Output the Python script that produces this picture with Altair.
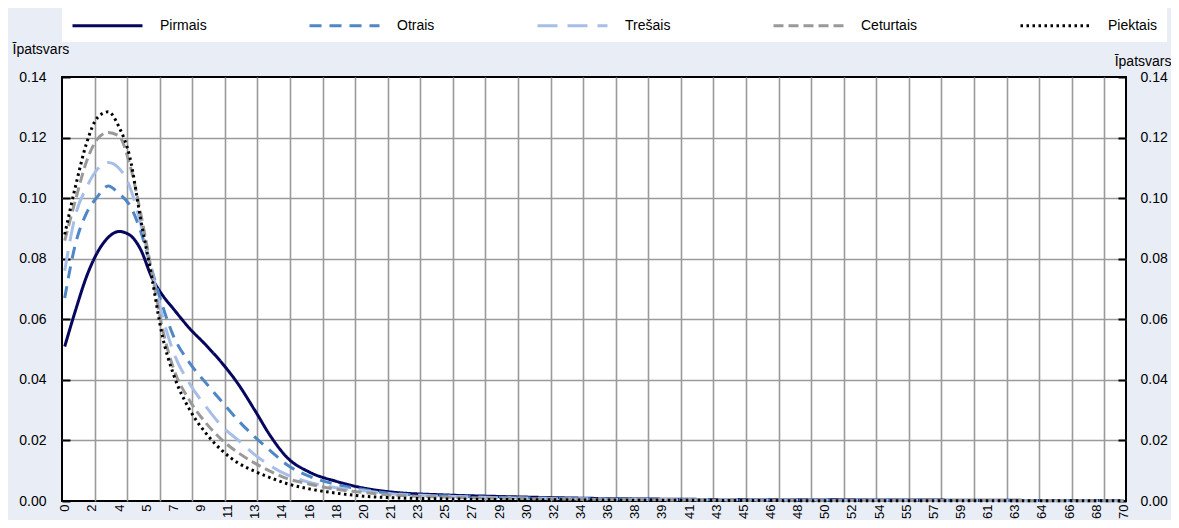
import altair as alt
import pandas as pd

# ---------------- data ----------------
series_names = ["Pirmais", "Otrais", "Trešais", "Ceturtais", "Piektais"]
series_colors = ["#06065F", "#4F86C6", "#A7BFE8", "#999999", "#000000"]
series_dashes = [[1, 0], [12, 8], [20, 10], [10, 5], [2.5, 3.5]]

# category axis: 196 categories, every 5th labelled
x_labels = ["0", "2", "4", "5", "7", "9", "11", "13", "14", "16", "18", "20", "21", "23",
            "25", "27", "29", "30", "32", "34", "36", "38", "39", "41", "43", "45", "46",
            "48", "50", "52", "54", "55", "57", "59", "61", "63", "64", "66", "68", "70"]

# category index at which each value was read
x_cat = [0, 2, 4, 6, 8, 10, 12, 14, 16, 18, 20, 23, 26, 29, 32, 35, 38, 41, 45, 50,
         55, 60, 70, 80, 90, 100, 120, 140, 160, 180, 195]

pirmais = [0.051, 0.063, 0.074, 0.082, 0.087, 0.089, 0.0878, 0.083, 0.074, 0.068, 0.0635,
           0.057, 0.0515, 0.0455, 0.0385, 0.030, 0.0212, 0.0143, 0.0096, 0.0065, 0.0043,
           0.003, 0.002, 0.0015, 0.0011, 0.0008, 0.0005, 0.0004, 0.0003, 0.0002, 0.0002]
otrais = [0.067, 0.085, 0.095, 0.1004, 0.104, 0.1015, 0.0976, 0.089, 0.0766, 0.0645, 0.0546,
          0.0456, 0.039, 0.0327, 0.0265, 0.0212, 0.0164, 0.0119, 0.0082, 0.0055, 0.0038,
          0.0025, 0.0017, 0.0012, 0.0009, 0.0007, 0.0004, 0.0003, 0.0002, 0.0002, 0.0001]
tresais = [0.076, 0.0945, 0.1035, 0.1095, 0.1118, 0.1099, 0.1037, 0.0914, 0.0764, 0.061,
           0.0493, 0.0388, 0.0312, 0.0246, 0.020, 0.0153, 0.0115, 0.0086, 0.0062, 0.0044,
           0.0034, 0.0024, 0.0016, 0.0011, 0.0008, 0.0006, 0.0004, 0.0003, 0.0002, 0.0001,
           0.0001]
ceturtais = [0.086, 0.0995, 0.112, 0.1195, 0.1217, 0.1205, 0.111, 0.095, 0.076, 0.057, 0.044,
             0.0332, 0.0258, 0.0201, 0.0159, 0.0125, 0.0097, 0.0074, 0.0056, 0.0039, 0.0028,
             0.002, 0.0013, 0.0009, 0.0007, 0.0005, 0.0003, 0.0002, 0.0002, 0.0001, 0.0001]
piektais = [0.088, 0.104, 0.118, 0.1265, 0.1285, 0.1235, 0.1135, 0.093, 0.0743, 0.0544,
            0.042, 0.0302, 0.0224, 0.0166, 0.0125, 0.0098, 0.0076, 0.0057, 0.004, 0.0026,
            0.0016, 0.0011, 0.0007, 0.0005, 0.0004, 0.0003, 0.0002, 0.0001, 0.0001, 0.0001,
            0.0001]

y_ticks = [0.0, 0.02, 0.04, 0.06, 0.08, 0.10, 0.12, 0.14]
y_title = "Īpatsvars"

N_CAT = 196
LABEL_STEP = 5
GRID_STEP = 6

rows = []
for name, vals in zip(series_names, [pirmais, otrais, tresais, ceturtais, piektais]):
    for c, v in zip(x_cat, vals):
        rows.append({"series": name, "cat": c, "val": v})
df = pd.DataFrame(rows)

# ---------------- styling ----------------
FONT = "Liberation Sans, Arial, sans-serif"
BG = "#E9EDF6"
GRID = "#9A9A9A"

label_vals = [LABEL_STEP * k for k in range(len(x_labels))]
grid_vals = [g - 0.5 for g in range(0, N_CAT, GRID_STEP)]
x_axis_vals = sorted(label_vals + grid_vals)
label_expr = ("datum.value % 1 == 0 ? split('" + "|".join(x_labels) +
              "', '|')[round(datum.value / " + str(LABEL_STEP) + ")] : ''")

x_enc = alt.X(
    "cat:Q",
    scale=alt.Scale(domain=[-0.5, N_CAT - 0.5], nice=False, zero=False),
    axis=alt.Axis(
        values=x_axis_vals, labelExpr=label_expr, labelAngle=270,
        labelOverlap=False, labelFlush=False, ticks=False, domain=False,
        grid=True, gridColor=GRID, gridWidth=1.6,
        gridOpacity={"condition": {"test": "datum.value % 1 != 0 && datum.value > 0", "value": 1}, "value": 0},
        labelFont=FONT, labelFontSize=13, labelColor="black", labelPadding=3, title=None,
    ),
)

y_scale = alt.Scale(domain=[0, 0.14], nice=False, zero=True)

common_y_axis = dict(
    values=y_ticks, format=".2f", offset=-8, ticks=True, tickSize=8, tickWidth=2,
    tickColor="black", domain=False, labelFont=FONT, labelFontSize=14,
    labelColor="black", title=y_title, titleAngle=0,
    titleFont=FONT, titleFontSize=14, titleFontWeight="normal", titleColor="black",
    titleBaseline="middle",
)

y_left = alt.Y("val:Q", scale=y_scale, axis=alt.Axis(
    orient="left", grid=True, gridColor=GRID, gridWidth=1.6, labelPadding=16,
    gridOpacity={"condition": {"test": "datum.value > 0 && datum.value < 0.14", "value": 1}, "value": 0},
    titleX=-58, titleY=-28, titleAlign="left", **common_y_axis))

y_right = alt.Y("val:Q", scale=y_scale, axis=alt.Axis(
    orient="right", grid=False, labelPadding=14, titleX=53, titleY=-16, titleAlign="right",
    **common_y_axis))

legend = alt.Legend(
    title=None, orient="none", legendX=0, legendY=-69, direction="horizontal", columns=5,
    symbolType="M-5,0H5", symbolSize=196, symbolOffset=28, symbolStrokeWidth=3,
    labelOffset=44, columnPadding=96, padding=9, fillColor="white",
    labelFont=FONT, labelFontSize=14, labelColor="black",
)

color_enc = alt.Color("series:N", scale=alt.Scale(domain=series_names, range=series_colors), legend=legend)
dash_enc = alt.StrokeDash("series:N", scale=alt.Scale(domain=series_names, range=series_dashes), legend=legend)

lines = alt.Chart(df).mark_line(strokeWidth=3, interpolate="monotone", strokeCap="butt").encode(
    x=x_enc, y=y_left, color=color_enc, strokeDash=dash_enc,
)

right_axis = alt.Chart(df).mark_line(strokeOpacity=0).encode(
    x=x_enc, y=y_right, detail="series:N",
)

chart = alt.layer(lines, right_axis).resolve_axis(y="independent").properties(
    width=1064, height=424,
    autosize=alt.AutoSizeParams(type="none"),
    padding={"left": 54, "top": 69, "right": 45, "bottom": 19},
).configure(
    background=BG, font=FONT,
).configure_view(
    stroke="black", strokeWidth=2, fill="white",
)

chart.save("out.html", embed_options={"renderer": "svg", "actions": False})
